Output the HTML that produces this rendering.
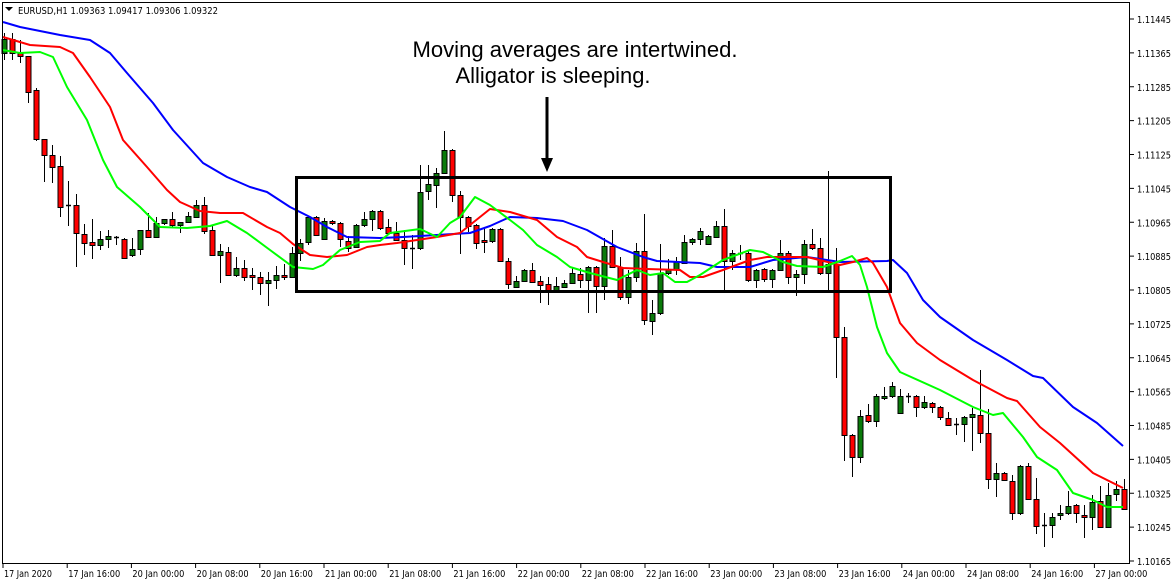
<!DOCTYPE html>
<html><head><meta charset="utf-8"><style>
html,body{margin:0;padding:0;background:#fff;}
svg{display:block;}
</style></head><body>
<svg id="s" width="1176" height="584" xmlns="http://www.w3.org/2000/svg" font-family="Tahoma, 'DejaVu Sans', 'Liberation Sans', sans-serif">
<rect x="0" y="0" width="1176" height="584" fill="#fff"/>
<g id="plot"></g>
<rect x="2.5" y="2.5" width="1127" height="561" fill="none" stroke="#000" stroke-width="1"/>
<path d="M5 7 L13 7 L9 11 Z" fill="#000"/>
<text x="18" y="14" font-size="10" fill="#000" textLength="200" lengthAdjust="spacingAndGlyphs">EURUSD,H1  1.09363 1.09417 1.09306 1.09322</text>
<text x="575" y="57" font-size="22" text-anchor="middle" font-family="'Liberation Sans', sans-serif" fill="#000" textLength="325" lengthAdjust="spacingAndGlyphs">Moving averages are intertwined.</text>
<text x="553" y="83" font-size="22" text-anchor="middle" font-family="'Liberation Sans', sans-serif" fill="#000" textLength="195" lengthAdjust="spacingAndGlyphs">Alligator is sleeping.</text>
<line x1="547" y1="97" x2="547" y2="160" stroke="#000" stroke-width="3"/>
<path d="M541 158 L553 158 L547 172 Z" fill="#000"/>
<rect x="296.5" y="177.5" width="594" height="114" fill="none" stroke="#000" stroke-width="3"/>
<g id="axes" font-size="9.5" fill="#000"></g>
</svg>
<script>
var NS="http://www.w3.org/2000/svg";
function el(p,t,a){var e=document.createElementNS(NS,t);for(var k in a)e.setAttribute(k,a[k]);p.appendChild(e);return e;}
var plot=document.getElementById('plot'),axes=document.getElementById('axes');
var blue=[[3,22],[20,27],[60,35],[90,40],[110,53],[127,73],[153,103],[173,130],[203,163],[227,177],[250,187],[267,192],[290,207],[310,217],[327,227],[347,237],[380,238],[403,237],[470,233],[490,226],[510,217],[537,218],[563,221],[587,230],[617,247],[643,257],[657,261],[700,263],[717,267],[750,267],[773,260],[807,257],[840,262],[887,261],[893,260],[907,273],[923,300],[940,317],[973,340],[1007,360],[1033,376],[1043,378],[1073,407],[1097,423],[1123,446]];
var red=[[3,37],[30,45],[60,47],[73,53],[90,77],[110,107],[123,140],[147,167],[167,190],[180,202],[200,211],[220,213],[243,213],[267,227],[280,233],[293,244],[310,255],[327,257],[347,255],[367,247],[380,245],[397,243],[437,237],[460,233],[470,225],[490,209],[510,212],[537,220],[557,237],[577,247],[587,257],[603,262],[623,268],[647,269],[680,270],[690,277],[703,277],[723,270],[750,260],[767,257],[807,257],[840,265],[853,262],[867,258],[873,263],[887,287],[900,323],[917,343],[940,360],[973,380],[1007,398],[1017,401],[1040,427],[1060,443],[1093,473],[1123,488]];
var green=[[3,50],[20,53],[40,52],[53,57],[67,87],[87,120],[103,160],[117,187],[140,207],[160,227],[187,228],[210,226],[227,221],[247,233],[270,250],[293,267],[313,269],[323,265],[340,250],[360,242],[380,241],[390,233],[420,229],[437,237],[450,223],[460,217],[475,197],[490,205],[510,220],[523,230],[537,245],[557,257],[570,267],[590,273],[617,280],[637,270],[650,275],[663,273],[675,282],[687,282],[700,275],[723,260],[750,250],[763,252],[783,262],[797,266],[823,267],[840,261],[852,256],[860,265],[867,287],[877,327],[887,353],[900,372],[940,390],[973,407],[993,415],[1003,413],[1023,437],[1037,457],[1057,470],[1073,493],[1093,500],[1107,507],[1123,507]];
function pl(pts,c){el(plot,'polyline',{points:pts.map(function(p){return p.join(',')}).join(' '),fill:'none',stroke:c,'stroke-width':2,'stroke-linejoin':'round'});}
var C=[[39,53,33,60,'g'],[39,53,33,60,'r'],[53,56,40,63,'r'],[56,92,56,103,'r'],[90,139,88,141,'r'],[139,155,139,182,'r'],[155,167,145,183,'r'],[166,207,156,217,'r'],[205,205,181,226,'d'],[205,233,194,267,'r'],[234,243,224,255,'r'],[242,245,219,259,'r'],[239,245,231,250,'g'],[236,239,230,248,'g'],[237,237,236,245,'d'],[239,258,238,259,'r'],[249,255,238,257,'g'],[230,249,230,255,'g'],[230,237,213,238,'r'],[223,237,217,238,'g'],[219,223,219,225,'g'],[219,225,212,227,'r'],[222,225,222,233,'g'],[216,222,212,223,'g'],[205,217,200,218,'g'],[205,231,197,234,'r'],[230,255,225,256,'r'],[251,255,244,283,'g'],[252,275,247,276,'r'],[268,275,257,277,'g'],[268,277,260,281,'r'],[275,277,268,290,'r'],[277,283,272,295,'r'],[280,283,272,306,'g'],[275,280,266,289,'g'],[275,277,264,280,'r'],[253,277,247,278,'g'],[243,253,239,261,'g'],[217,242,216,245,'g'],[217,235,216,236,'r'],[221,239,218,240,'g'],[221,223,220,225,'r'],[223,239,222,247,'r'],[241,248,236,252,'r'],[225,247,224,248,'g'],[219,225,212,227,'g'],[211,219,210,231,'g'],[211,228,210,230,'r'],
[227,233,219,234,'r'],[233,240,222,241,'r'],[240,248,230,265,'r'],[248,248,235,269,'d'],[192,248,165,250,'g'],[184,191,165,200,'g'],[173,185,168,208,'g'],[150,173,131,174,'g'],[150,195,149,202,'r'],[195,217,191,254,'r'],[217,226,216,232,'r'],[225,243,224,249,'r'],[240,242,228,253,'r'],[229,241,228,243,'g'],[229,261,228,262,'r'],[261,284,258,289,'r'],[281,287,276,288,'g'],[270,281,269,282,'g'],[270,282,263,283,'r'],[281,285,276,303,'r'],[284,290,277,305,'r'],[286,290,277,291,'g'],[283,287,280,288,'g'],[273,283,268,284,'g'],[274,280,268,288,'r'],[267,280,266,313,'g'],[267,286,266,313,'r'],[246,286,238,300,'g'],[246,267,230,268,'r'],[267,297,257,300,'r'],[277,297,270,304,'g'],[251,277,243,282,'g'],[251,320,214,325,'r'],[313,321,300,335,'g'],[273,313,244,315,'g'],[269,273,259,275,'g'],[262,269,257,275,'g'],[242,263,235,264,'g'],[239,242,238,245,'g'],[231,239,228,245,'g'],[236,244,235,245,'g'],[226,237,221,238,'g'],[226,261,209,293,'r'],[253,261,250,270,'g'],[253,253,245,260,'d'],[253,280,251,282,'r'],
[270,280,269,288,'g'],[269,279,268,282,'r'],[270,279,269,288,'g'],[253,270,240,271,'g'],[253,277,251,284,'r'],[274,277,270,296,'g'],[244,274,240,284,'g'],[244,248,229,250,'r'],[248,273,238,275,'r'],[264,273,171,290,'g'],[264,337,248,378,'r'],[337,435,327,461,'r'],[435,457,434,477,'r'],[416,457,410,463,'g'],[415,421,404,423,'r'],[396,421,394,427,'g'],[396,398,387,400,'g'],[386,396,382,398,'g'],[396,413,389,414,'g'],[396,396,393,403,'d'],[396,407,395,417,'r'],[402,407,396,409,'g'],[403,407,402,413,'r'],[407,417,406,420,'r'],[418,425,412,426,'r'],[424,424,418,435,'d'],[417,424,416,442,'g'],[414,417,408,451,'g'],[415,433,370,443,'r'],[433,479,409,489,'r'],[473,479,463,497,'g'],[473,480,472,481,'r'],[481,513,475,520,'r'],[466,513,465,515,'g'],[466,499,463,500,'r'],[499,526,478,534,'r'],[525,525,513,547,'d'],[517,525,513,538,'g'],[513,515,505,520,'g'],[506,513,491,515,'g'],[505,513,504,523,'r'],[515,517,505,538,'r'],[502,517,495,530,'g'],[501,527,486,528,'r'],[495,527,483,528,'g'],[489,494,481,501,'g'],[489,509,479,510,'r']];
var cg=el(plot,'g',{});
C.forEach(function(c,i){var x=4+i*8;
 el(cg,'line',{x1:x+0.5,y1:c[2],x2:x+0.5,y2:c[3],stroke:'#000','stroke-width':1});
 if(c[4]=='d'){el(cg,'line',{x1:x-2,y1:c[0]+0.5,x2:x+3,y2:c[0]+0.5,stroke:'#000','stroke-width':1.5});}
 else{var h=Math.max(c[1]-c[0],2);el(cg,'rect',{x:x-2,y:c[0]+0.5,width:5,height:h,fill:c[4]=='g'?'#0a7a0a':'#ff0000',stroke:'#000','stroke-width':1});}
});
pl(blue,'#0000ff');pl(red,'#ff0000');pl(green,'#00ff00');
var prices=['1.11445','1.11365','1.11285','1.11205','1.11125','1.11045','1.10965','1.10885','1.10805','1.10725','1.10645','1.10565','1.10485','1.10405','1.10325','1.10245','1.10165'];
prices.forEach(function(p,i){var y=19+i*33.875;
 el(axes,'line',{x1:1129,y1:y,x2:1134,y2:y,stroke:'#000','stroke-width':1});
 var t=el(axes,'text',{x:1137,y:y+4,textLength:34,lengthAdjust:'spacingAndGlyphs'});t.textContent=p;});
var dates=['17 Jan 2020','17 Jan 16:00','20 Jan 00:00','20 Jan 08:00','20 Jan 16:00','21 Jan 00:00','21 Jan 08:00','21 Jan 16:00','22 Jan 00:00','22 Jan 08:00','22 Jan 16:00','23 Jan 00:00','23 Jan 08:00','23 Jan 16:00','24 Jan 00:00','24 Jan 08:00','24 Jan 16:00','27 Jan 00:00'];
dates.forEach(function(d,i){var x=3+i*64.2;
 el(axes,'line',{x1:x,y1:563,x2:x,y2:568,stroke:'#000','stroke-width':1});
 var t=el(axes,'text',{x:x+1,y:577,textLength:(i==0?48:52),lengthAdjust:'spacingAndGlyphs'});t.textContent=d;});
</script>
</body></html>
